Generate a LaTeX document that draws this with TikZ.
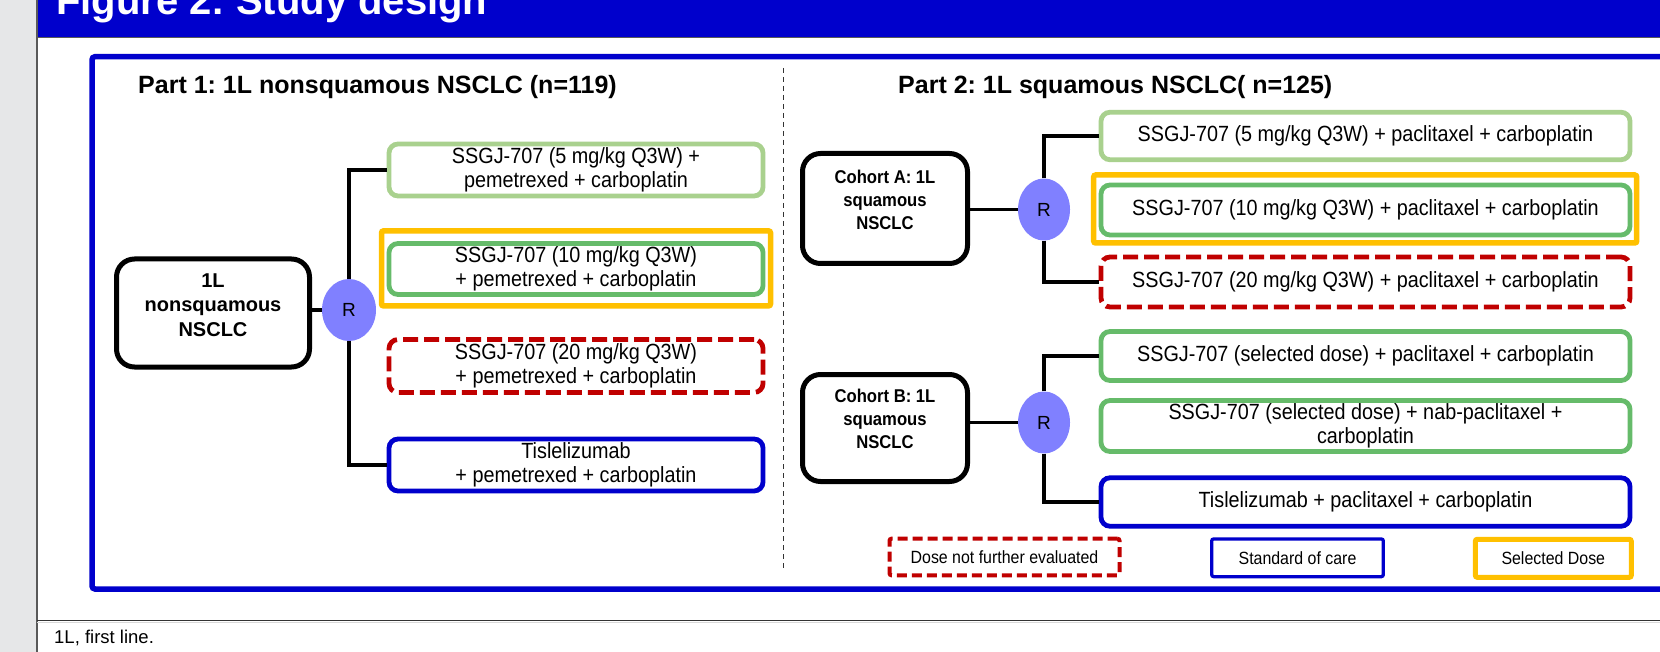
\documentclass[tikz,border=0pt]{standalone}
\usepackage{fontspec}
\setmainfont{Liberation Sans}
\newfontfamily\nar{Liberation Sans}[FakeStretch=0.9]
\usetikzlibrary{shapes.geometric}
\definecolor{hblue}{RGB}{0,0,204}
\definecolor{lgreenc}{RGB}{169,209,142}
\definecolor{greenc}{RGB}{102,187,106}
\definecolor{goldc}{RGB}{255,192,0}
\definecolor{redc}{RGB}{192,0,0}
\definecolor{rfill}{RGB}{128,128,255}
\definecolor{stripc}{RGB}{230,231,232}
\frenchspacing
\begin{document}
\begin{tikzpicture}[x=1pt,y=-1pt,
  box/.style={draw, line width=4.8pt, rounded corners=9pt, align=center, inner sep=0pt,
    font=\nar\fontsize{22}{23.5}\selectfont},
  lgbox/.style={box, draw=lgreenc},
  grbox/.style={box, draw=greenc},
  rdbox/.style={box, draw=redc, dash pattern=on 15pt off 6pt},
  blbox/.style={box, draw=hblue},
  goldbox/.style={draw=goldc, line width=5.5pt, rounded corners=2pt, inner sep=0pt},
  cohframe/.style={draw, line width=5pt, rounded corners=18pt, inner sep=0pt},
  cohtext/.style={align=center, inner sep=0pt, font=\nar\bfseries\fontsize{18.5}{23}\selectfont},
  rnode/.style={ellipse, fill=rfill, inner sep=0pt, font=\fontsize{19}{19}\selectfont},
  conn/.style={draw, line width=3.3pt},
  heading/.style={anchor=west, inner sep=0pt, font=\bfseries\fontsize{25}{28}\selectfont},
  legbox/.style={draw, inner sep=0pt, rounded corners=2pt, font=\nar\fontsize{17.7}{20}\selectfont}
]
\useasboundingbox (0,0) rectangle (1660,652);
\clip (0,0) rectangle (1660,652);
% page background
\fill[white] (0,0) rectangle (1660,652);
\fill[stripc] (0,0) rectangle (37,652);
\fill[hblue] (37,0) rectangle (1660,37.5);
\draw[black!65, line width=1.2pt] (37,37.5) -- (1660,37.5);
\draw[black!65, line width=1.2pt] (37,0) -- (37,652);
\draw[black!80, line width=1.2pt] (37,620.5) -- (1660,620.5);
\draw[black!15, line width=1pt] (37,622) -- (1660,622);
\node[anchor=base west, inner sep=0pt, text=white, font=\bfseries\fontsize{40}{44}\selectfont] (title) at (56,15) {Figure 2: Study design};
\node[anchor=west, inner sep=0pt, font=\fontsize{18.5}{20}\selectfont] (foot) at (54,638) {1L, first line.};
% frame
\draw[hblue, line width=5.5pt, rounded corners=3pt] (92,56.7) rectangle (1700,589);
% divider
\coordinate (dtop) at (783.5,68);
\coordinate (dbot) at (783.5,570);
\draw[black!80, line width=1.1pt, dash pattern=on 5pt off 4pt] (dtop) -- (dbot);
% headings
\node[heading] (h1) at (138,87) {Part 1: 1L nonsquamous NSCLC (n=119)};
\node[heading] (h2) at (898,87) {Part 2: 1L squamous NSCLC( n=125)};
% ---- Part 1
\node[cohframe, minimum width=193pt, minimum height=108pt] (c1) at (213,313) {};
\node[align=center, inner sep=0pt, font=\bfseries\fontsize{20}{24.5}\selectfont] (c1t) at ([yshift=8pt]c1.center) {1L\\nonsquamous\\NSCLC};
\node[rnode, minimum width=54pt, minimum height=62pt] (R1) at (349,310) {R};
\node[lgbox, minimum width=374pt, minimum height=52pt] (L1) at (576,170) {SSGJ-707 (5 mg/kg Q3W) +\\pemetrexed + carboplatin};
\node[goldbox, minimum width=389pt, minimum height=75pt] (G1) at (576,268.4) {};
\node[grbox, minimum width=374pt, minimum height=51pt] (L2) at (576,269) {SSGJ-707 (10 mg/kg Q3W)\\+ pemetrexed + carboplatin};
\node[rdbox, minimum width=374pt, minimum height=53pt] (L3) at (576,366) {SSGJ-707 (20 mg/kg Q3W)\\+ pemetrexed + carboplatin};
\node[blbox, minimum width=374pt, minimum height=52pt] (L4) at (576,465) {Tislelizumab\\+ pemetrexed + carboplatin};
\draw[conn] (R1.west -| c1.east) -- (R1.west);
\draw[conn] (R1.north) |- (L1.west);
\draw[conn] (R1.south) |- (L4.west);
% ---- Part 2, cohort A
\node[cohframe, minimum width=165pt, minimum height=110pt] (cA) at (885,208.5) {};
\node[cohtext] (cAt) at ([yshift=9pt]cA.center) {Cohort A: 1L\\squamous\\NSCLC};
\node[rnode, minimum width=52pt, minimum height=62pt] (RA) at (1044,209.5) {R};
\node[lgbox, minimum width=529pt, minimum height=47.5pt] (A1) at (1365.5,136) {SSGJ-707 (5 mg/kg Q3W) + paclitaxel + carboplatin};
\node[goldbox, minimum width=543pt, minimum height=68pt] (G2) at (1365.2,209) {};
\node[grbox, minimum width=529pt, minimum height=50pt] (A2) at (1365.5,210) {SSGJ-707 (10 mg/kg Q3W) + paclitaxel + carboplatin};
\node[rdbox, minimum width=529pt, minimum height=50pt] (A3) at (1365.5,282) {SSGJ-707 (20 mg/kg Q3W) + paclitaxel + carboplatin};
\draw[conn] (RA.west -| cA.east) -- (RA.west);
\draw[conn] (RA.north) |- (A1.west);
\draw[conn] (RA.south) |- (A3.west);
% ---- cohort B
\node[cohframe, minimum width=165pt, minimum height=107pt] (cB) at (885,428) {};
\node[cohtext] (cBt) at ([yshift=9pt]cB.center) {Cohort B: 1L\\squamous\\NSCLC};
\node[rnode, minimum width=52pt, minimum height=62pt] (RB) at (1044,422.5) {R};
\node[grbox, minimum width=529pt, minimum height=49pt] (B1) at (1365.5,356) {SSGJ-707 (selected dose) + paclitaxel + carboplatin};
\node[grbox, minimum width=529pt, minimum height=51pt] (B2) at (1365.5,426) {SSGJ-707 (selected dose) + nab-paclitaxel +\\carboplatin};
\node[blbox, minimum width=529pt, minimum height=48.5pt] (B3) at (1365.5,502) {Tislelizumab + paclitaxel + carboplatin};
\draw[conn] (RB.west -| cB.east) -- (RB.west);
\draw[conn] (RB.north) |- (B1.west);
\draw[conn] (RB.south) |- (B3.west);
% ---- legend
\node[legbox, draw=redc, line width=4pt, dash pattern=on 10pt off 5pt, minimum width=230pt, minimum height=36.6pt] (k1) at (1004.5,557) {Dose not further evaluated};
\node[legbox, draw=hblue, line width=3.3pt, minimum width=171.6pt, minimum height=37.7pt] (k2) at (1297.5,557.8) {Standard of care};
\node[legbox, draw=goldc, line width=5pt, minimum width=156pt, minimum height=38pt] (k3) at (1553.3,558.3) {Selected Dose};
\end{tikzpicture}
\end{document}
